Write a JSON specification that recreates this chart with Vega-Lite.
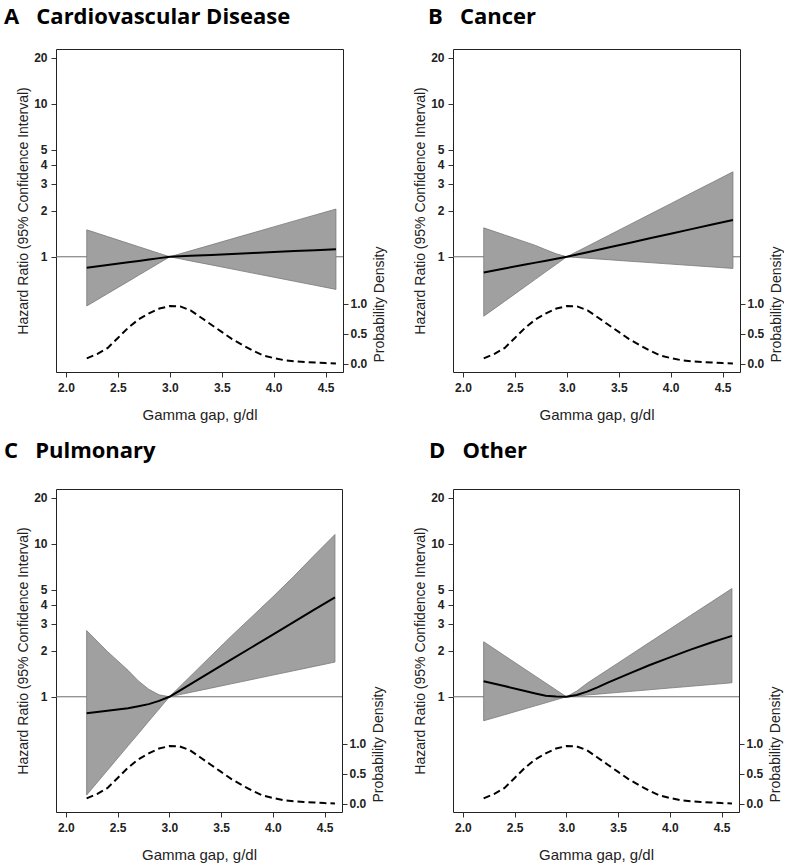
{
  "$schema": "https://vega.github.io/schema/vega-lite/v6.json",
  "padding": {"left": 3, "top": 5, "right": 0, "bottom": 0},
  "background": "white",
  "config": {
    "view": {"stroke": "#222222", "strokeWidth": 1},
    "axis": {
      "domain": false, "grid": false,
      "labelFont": "Liberation Sans, Arial, Helvetica, sans-serif", "labelFontSize": 12, "labelFontWeight": "bold", "labelColor": "#222222",
      "tickColor": "#333333", "tickSize": 5,
      "titleFont": "Liberation Sans, Arial, Helvetica, sans-serif", "titleFontSize": 14, "titleFontWeight": "normal", "titleColor": "#222222"
    },
    "title": {"font": "Open Sans", "fontSize": 22, "fontWeight": "bold", "color": "#000000", "anchor": "start", "frame": "group", "baseline": "alphabetic"}
  },
  "datasets": {
    "curves": [
      {"panel": "A", "x": 2.2, "lo": 0.477, "hr": 0.848, "hi": 1.50},
      {"panel": "A", "x": 2.4, "lo": 0.574, "hr": 0.884, "hi": 1.355},
      {"panel": "A", "x": 2.6, "lo": 0.690, "hr": 0.921, "hi": 1.224},
      {"panel": "A", "x": 2.7, "lo": 0.758, "hr": 0.940, "hi": 1.164},
      {"panel": "A", "x": 2.8, "lo": 0.831, "hr": 0.960, "hi": 1.106},
      {"panel": "A", "x": 2.9, "lo": 0.912, "hr": 0.980, "hi": 1.052},
      {"panel": "A", "x": 3.0, "lo": 1.0, "hr": 1.0, "hi": 1.0},
      {"panel": "A", "x": 3.1, "lo": 0.970, "hr": 1.007, "hi": 1.046},
      {"panel": "A", "x": 3.2, "lo": 0.940, "hr": 1.014, "hi": 1.094},
      {"panel": "A", "x": 3.4, "lo": 0.885, "hr": 1.029, "hi": 1.197},
      {"panel": "A", "x": 3.6, "lo": 0.832, "hr": 1.044, "hi": 1.31},
      {"panel": "A", "x": 3.8, "lo": 0.782, "hr": 1.059, "hi": 1.433},
      {"panel": "A", "x": 4.0, "lo": 0.736, "hr": 1.074, "hi": 1.568},
      {"panel": "A", "x": 4.2, "lo": 0.692, "hr": 1.089, "hi": 1.716},
      {"panel": "A", "x": 4.4, "lo": 0.651, "hr": 1.105, "hi": 1.876},
      {"panel": "A", "x": 4.6, "lo": 0.612, "hr": 1.12, "hi": 2.05},
      {"panel": "B", "x": 2.2, "lo": 0.409, "hr": 0.79, "hi": 1.545},
      {"panel": "B", "x": 2.4, "lo": 0.511, "hr": 0.839, "hi": 1.39},
      {"panel": "B", "x": 2.6, "lo": 0.639, "hr": 0.889, "hi": 1.25},
      {"panel": "B", "x": 2.7, "lo": 0.715, "hr": 0.916, "hi": 1.185},
      {"panel": "B", "x": 2.8, "lo": 0.80, "hr": 0.943, "hi": 1.11},
      {"panel": "B", "x": 2.9, "lo": 0.894, "hr": 0.971, "hi": 1.045},
      {"panel": "B", "x": 3.0, "lo": 1.0, "hr": 1.0, "hi": 1.0},
      {"panel": "B", "x": 3.1, "lo": 0.989, "hr": 1.035, "hi": 1.083},
      {"panel": "B", "x": 3.2, "lo": 0.978, "hr": 1.072, "hi": 1.173},
      {"panel": "B", "x": 3.4, "lo": 0.957, "hr": 1.149, "hi": 1.376},
      {"panel": "B", "x": 3.6, "lo": 0.936, "hr": 1.231, "hi": 1.615},
      {"panel": "B", "x": 3.8, "lo": 0.916, "hr": 1.32, "hi": 1.895},
      {"panel": "B", "x": 4.0, "lo": 0.896, "hr": 1.414, "hi": 2.223},
      {"panel": "B", "x": 4.2, "lo": 0.877, "hr": 1.516, "hi": 2.61},
      {"panel": "B", "x": 4.4, "lo": 0.858, "hr": 1.624, "hi": 3.06},
      {"panel": "B", "x": 4.6, "lo": 0.839, "hr": 1.74, "hi": 3.59},
      {"panel": "C", "x": 2.2, "lo": 0.228, "hr": 0.781, "hi": 2.71},
      {"panel": "C", "x": 2.4, "lo": 0.33, "hr": 0.81, "hi": 1.98},
      {"panel": "C", "x": 2.6, "lo": 0.478, "hr": 0.842, "hi": 1.49},
      {"panel": "C", "x": 2.7, "lo": 0.574, "hr": 0.866, "hi": 1.27},
      {"panel": "C", "x": 2.8, "lo": 0.691, "hr": 0.895, "hi": 1.12},
      {"panel": "C", "x": 2.9, "lo": 0.831, "hr": 0.94, "hi": 1.03},
      {"panel": "C", "x": 3.0, "lo": 1.0, "hr": 1.0, "hi": 1.0},
      {"panel": "C", "x": 3.1, "lo": 1.033, "hr": 1.098, "hi": 1.165},
      {"panel": "C", "x": 3.2, "lo": 1.067, "hr": 1.206, "hi": 1.357},
      {"panel": "C", "x": 3.4, "lo": 1.139, "hr": 1.455, "hi": 1.843},
      {"panel": "C", "x": 3.6, "lo": 1.216, "hr": 1.754, "hi": 2.5},
      {"panel": "C", "x": 3.8, "lo": 1.298, "hr": 2.115, "hi": 3.35},
      {"panel": "C", "x": 4.0, "lo": 1.386, "hr": 2.55, "hi": 4.5},
      {"panel": "C", "x": 4.2, "lo": 1.479, "hr": 3.076, "hi": 6.1},
      {"panel": "C", "x": 4.4, "lo": 1.579, "hr": 3.71, "hi": 8.4},
      {"panel": "C", "x": 4.6, "lo": 1.686, "hr": 4.47, "hi": 11.5},
      {"panel": "D", "x": 2.2, "lo": 0.697, "hr": 1.265, "hi": 2.29},
      {"panel": "D", "x": 2.4, "lo": 0.762, "hr": 1.175, "hi": 1.86},
      {"panel": "D", "x": 2.6, "lo": 0.835, "hr": 1.092, "hi": 1.512},
      {"panel": "D", "x": 2.7, "lo": 0.873, "hr": 1.052, "hi": 1.364},
      {"panel": "D", "x": 2.8, "lo": 0.913, "hr": 1.015, "hi": 1.23},
      {"panel": "D", "x": 2.9, "lo": 0.956, "hr": 1.005, "hi": 1.109},
      {"panel": "D", "x": 3.0, "lo": 1.0, "hr": 1.0, "hi": 1.0},
      {"panel": "D", "x": 3.1, "lo": 1.013, "hr": 1.028, "hi": 1.09},
      {"panel": "D", "x": 3.2, "lo": 1.027, "hr": 1.081, "hi": 1.226},
      {"panel": "D", "x": 3.3, "lo": 1.040, "hr": 1.153, "hi": 1.358},
      {"panel": "D", "x": 3.4, "lo": 1.054, "hr": 1.236, "hi": 1.503},
      {"panel": "D", "x": 3.6, "lo": 1.082, "hr": 1.413, "hi": 1.843},
      {"panel": "D", "x": 3.8, "lo": 1.111, "hr": 1.607, "hi": 2.26},
      {"panel": "D", "x": 4.0, "lo": 1.141, "hr": 1.811, "hi": 2.77},
      {"panel": "D", "x": 4.2, "lo": 1.171, "hr": 2.032, "hi": 3.4},
      {"panel": "D", "x": 4.4, "lo": 1.202, "hr": 2.265, "hi": 4.16},
      {"panel": "D", "x": 4.6, "lo": 1.235, "hr": 2.5, "hi": 5.1}
    ],
    "density": [
      {"x": 2.2, "dens": 0.09}, {"x": 2.3, "dens": 0.16}, {"x": 2.4, "dens": 0.26},
      {"x": 2.5, "dens": 0.43}, {"x": 2.6, "dens": 0.60}, {"x": 2.7, "dens": 0.74},
      {"x": 2.8, "dens": 0.84}, {"x": 2.9, "dens": 0.92}, {"x": 3.0, "dens": 0.96},
      {"x": 3.1, "dens": 0.955}, {"x": 3.2, "dens": 0.89}, {"x": 3.3, "dens": 0.77},
      {"x": 3.4, "dens": 0.65}, {"x": 3.5, "dens": 0.53}, {"x": 3.6, "dens": 0.41},
      {"x": 3.7, "dens": 0.31}, {"x": 3.8, "dens": 0.217}, {"x": 3.9, "dens": 0.138},
      {"x": 4.0, "dens": 0.095}, {"x": 4.1, "dens": 0.06}, {"x": 4.2, "dens": 0.04},
      {"x": 4.3, "dens": 0.03}, {"x": 4.4, "dens": 0.02}, {"x": 4.5, "dens": 0.01},
      {"x": 4.6, "dens": 0.005}
    ]
  },
  "columns": 2,
  "spacing": {"column": 25, "row": 16},
  "concat": [
    {
      "width": 287, "height": 323,
      "title": {"text": "A\u00a0\u00a0\u00a0Cardiovascular Disease", "dx": -52, "offset": 20.5},
      "resolve": {"scale": {"y": "independent"}},
      "layer": [
        {
          "data": {"values": [{"ref": 1}]},
          "mark": {"type": "rule", "color": "#6e6e6e", "strokeWidth": 1},
          "encoding": {
            "y": {"field": "ref", "type": "quantitative", "scale": {"type": "log", "domain": [0.1766, 22.8]},
              "axis": {"values": [1, 2, 3, 4, 5, 10, 20], "format": "d", "title": "Hazard Ratio (95% Confidence Interval)", "titleX": -33, "titleBaseline": "middle", "labelPadding": 4}}
          }
        },
        {
          "data": {"name": "curves"},
          "transform": [{"filter": "datum.panel === 'A'"}],
          "mark": {"type": "area", "fill": "#a0a0a0", "fillOpacity": 1, "stroke": "#7a7a7a", "strokeWidth": 0.8},
          "encoding": {
            "x": {"field": "x", "type": "quantitative", "scale": {"domain": [1.904, 4.668], "nice": false, "zero": false},
              "axis": {"values": [2, 2.5, 3, 3.5, 4, 4.5], "format": ".1f", "title": "Gamma gap, g/dl", "titleY": 42, "titleBaseline": "middle", "titleFontSize": 15, "labelPadding": 5}},
            "y": {"field": "lo", "type": "quantitative", "scale": {"type": "log", "domain": [0.1766, 22.8]}, "axis": null},
            "y2": {"field": "hi"}
          }
        },
        {
          "data": {"name": "curves"},
          "transform": [{"filter": "datum.panel === 'A'"}],
          "mark": {"type": "line", "color": "#000000", "strokeWidth": 2},
          "encoding": {
            "x": {"field": "x", "type": "quantitative", "scale": {"domain": [1.904, 4.668], "nice": false, "zero": false},
              "axis": {"values": [2, 2.5, 3, 3.5, 4, 4.5], "format": ".1f", "title": "Gamma gap, g/dl", "titleY": 42, "titleBaseline": "middle", "titleFontSize": 15, "labelPadding": 5}},
            "y": {"field": "hr", "type": "quantitative", "scale": {"type": "log", "domain": [0.1766, 22.8]}, "axis": null}
          }
        },
        {
          "data": {"name": "density"},
          "mark": {"type": "line", "color": "#000000", "strokeWidth": 2, "strokeDash": [7, 4]},
          "encoding": {
            "x": {"field": "x", "type": "quantitative", "scale": {"domain": [1.904, 4.668], "nice": false, "zero": false},
              "axis": {"values": [2, 2.5, 3, 3.5, 4, 4.5], "format": ".1f", "title": "Gamma gap, g/dl", "titleY": 42, "titleBaseline": "middle", "titleFontSize": 15, "labelPadding": 5}},
            "y": {"field": "dens", "type": "quantitative", "scale": {"domain": [-0.138, 5.245], "nice": false, "zero": false},
              "axis": {"orient": "right", "values": [0, 0.5, 1], "format": ".1f", "title": "Probability Density", "titleAngle": 270, "titleX": 36, "titleY": 255, "titleBaseline": "middle", "titleAlign": "center", "labelPadding": 2}}
          }
        }
      ]
    },
    {
      "width": 287, "height": 323,
      "title": {"text": "B\u00a0\u00a0\u00a0Cancer", "dx": -25, "offset": 20.5},
      "resolve": {"scale": {"y": "independent"}},
      "layer": [
        {
          "data": {"values": [{"ref": 1}]},
          "mark": {"type": "rule", "color": "#6e6e6e", "strokeWidth": 1},
          "encoding": {
            "y": {"field": "ref", "type": "quantitative", "scale": {"type": "log", "domain": [0.1766, 22.8]},
              "axis": {"values": [1, 2, 3, 4, 5, 10, 20], "format": "d", "title": "Hazard Ratio (95% Confidence Interval)", "titleX": -33, "titleBaseline": "middle", "labelPadding": 4}}
          }
        },
        {
          "data": {"name": "curves"},
          "transform": [{"filter": "datum.panel === 'B'"}],
          "mark": {"type": "area", "fill": "#a0a0a0", "fillOpacity": 1, "stroke": "#7a7a7a", "strokeWidth": 0.8},
          "encoding": {
            "x": {"field": "x", "type": "quantitative", "scale": {"domain": [1.904, 4.668], "nice": false, "zero": false},
              "axis": {"values": [2, 2.5, 3, 3.5, 4, 4.5], "format": ".1f", "title": "Gamma gap, g/dl", "titleY": 42, "titleBaseline": "middle", "titleFontSize": 15, "labelPadding": 5}},
            "y": {"field": "lo", "type": "quantitative", "scale": {"type": "log", "domain": [0.1766, 22.8]}, "axis": null},
            "y2": {"field": "hi"}
          }
        },
        {
          "data": {"name": "curves"},
          "transform": [{"filter": "datum.panel === 'B'"}],
          "mark": {"type": "line", "color": "#000000", "strokeWidth": 2},
          "encoding": {
            "x": {"field": "x", "type": "quantitative", "scale": {"domain": [1.904, 4.668], "nice": false, "zero": false},
              "axis": {"values": [2, 2.5, 3, 3.5, 4, 4.5], "format": ".1f", "title": "Gamma gap, g/dl", "titleY": 42, "titleBaseline": "middle", "titleFontSize": 15, "labelPadding": 5}},
            "y": {"field": "hr", "type": "quantitative", "scale": {"type": "log", "domain": [0.1766, 22.8]}, "axis": null}
          }
        },
        {
          "data": {"name": "density"},
          "mark": {"type": "line", "color": "#000000", "strokeWidth": 2, "strokeDash": [7, 4]},
          "encoding": {
            "x": {"field": "x", "type": "quantitative", "scale": {"domain": [1.904, 4.668], "nice": false, "zero": false},
              "axis": {"values": [2, 2.5, 3, 3.5, 4, 4.5], "format": ".1f", "title": "Gamma gap, g/dl", "titleY": 42, "titleBaseline": "middle", "titleFontSize": 15, "labelPadding": 5}},
            "y": {"field": "dens", "type": "quantitative", "scale": {"domain": [-0.138, 5.245], "nice": false, "zero": false},
              "axis": {"orient": "right", "values": [0, 0.5, 1], "format": ".1f", "title": "Probability Density", "titleAngle": 270, "titleX": 36, "titleY": 255, "titleBaseline": "middle", "titleAlign": "center", "labelPadding": 2}}
          }
        }
      ]
    },
    {
      "width": 286, "height": 323,
      "title": {"text": "C\u00a0\u00a0\u00a0Pulmonary", "dx": -52, "offset": 26.5},
      "resolve": {"scale": {"y": "independent"}},
      "layer": [
        {
          "data": {"values": [{"ref": 1}]},
          "mark": {"type": "rule", "color": "#6e6e6e", "strokeWidth": 1},
          "encoding": {
            "y": {"field": "ref", "type": "quantitative", "scale": {"type": "log", "domain": [0.1766, 22.8]},
              "axis": {"values": [1, 2, 3, 4, 5, 10, 20], "format": "d", "title": "Hazard Ratio (95% Confidence Interval)", "titleX": -33, "titleBaseline": "middle", "labelPadding": 4}}
          }
        },
        {
          "data": {"name": "curves"},
          "transform": [{"filter": "datum.panel === 'C'"}],
          "mark": {"type": "area", "fill": "#a0a0a0", "fillOpacity": 1, "stroke": "#7a7a7a", "strokeWidth": 0.8},
          "encoding": {
            "x": {"field": "x", "type": "quantitative", "scale": {"domain": [1.904, 4.668], "nice": false, "zero": false},
              "axis": {"values": [2, 2.5, 3, 3.5, 4, 4.5], "format": ".1f", "title": "Gamma gap, g/dl", "titleY": 42, "titleBaseline": "middle", "titleFontSize": 15, "labelPadding": 5}},
            "y": {"field": "lo", "type": "quantitative", "scale": {"type": "log", "domain": [0.1766, 22.8]}, "axis": null},
            "y2": {"field": "hi"}
          }
        },
        {
          "data": {"name": "curves"},
          "transform": [{"filter": "datum.panel === 'C'"}],
          "mark": {"type": "line", "color": "#000000", "strokeWidth": 2},
          "encoding": {
            "x": {"field": "x", "type": "quantitative", "scale": {"domain": [1.904, 4.668], "nice": false, "zero": false},
              "axis": {"values": [2, 2.5, 3, 3.5, 4, 4.5], "format": ".1f", "title": "Gamma gap, g/dl", "titleY": 42, "titleBaseline": "middle", "titleFontSize": 15, "labelPadding": 5}},
            "y": {"field": "hr", "type": "quantitative", "scale": {"type": "log", "domain": [0.1766, 22.8]}, "axis": null}
          }
        },
        {
          "data": {"name": "density"},
          "mark": {"type": "line", "color": "#000000", "strokeWidth": 2, "strokeDash": [7, 4]},
          "encoding": {
            "x": {"field": "x", "type": "quantitative", "scale": {"domain": [1.904, 4.668], "nice": false, "zero": false},
              "axis": {"values": [2, 2.5, 3, 3.5, 4, 4.5], "format": ".1f", "title": "Gamma gap, g/dl", "titleY": 42, "titleBaseline": "middle", "titleFontSize": 15, "labelPadding": 5}},
            "y": {"field": "dens", "type": "quantitative", "scale": {"domain": [-0.138, 5.245], "nice": false, "zero": false},
              "axis": {"orient": "right", "values": [0, 0.5, 1], "format": ".1f", "title": "Probability Density", "titleAngle": 270, "titleX": 36, "titleY": 255, "titleBaseline": "middle", "titleAlign": "center", "labelPadding": 2}}
          }
        }
      ]
    },
    {
      "width": 286, "height": 323,
      "title": {"text": "D\u00a0\u00a0\u00a0Other", "dx": -24, "offset": 26.5},
      "resolve": {"scale": {"y": "independent"}},
      "layer": [
        {
          "data": {"values": [{"ref": 1}]},
          "mark": {"type": "rule", "color": "#6e6e6e", "strokeWidth": 1},
          "encoding": {
            "y": {"field": "ref", "type": "quantitative", "scale": {"type": "log", "domain": [0.1766, 22.8]},
              "axis": {"values": [1, 2, 3, 4, 5, 10, 20], "format": "d", "title": "Hazard Ratio (95% Confidence Interval)", "titleX": -33, "titleBaseline": "middle", "labelPadding": 4}}
          }
        },
        {
          "data": {"name": "curves"},
          "transform": [{"filter": "datum.panel === 'D'"}],
          "mark": {"type": "area", "fill": "#a0a0a0", "fillOpacity": 1, "stroke": "#7a7a7a", "strokeWidth": 0.8},
          "encoding": {
            "x": {"field": "x", "type": "quantitative", "scale": {"domain": [1.904, 4.668], "nice": false, "zero": false},
              "axis": {"values": [2, 2.5, 3, 3.5, 4, 4.5], "format": ".1f", "title": "Gamma gap, g/dl", "titleY": 42, "titleBaseline": "middle", "titleFontSize": 15, "labelPadding": 5}},
            "y": {"field": "lo", "type": "quantitative", "scale": {"type": "log", "domain": [0.1766, 22.8]}, "axis": null},
            "y2": {"field": "hi"}
          }
        },
        {
          "data": {"name": "curves"},
          "transform": [{"filter": "datum.panel === 'D'"}],
          "mark": {"type": "line", "color": "#000000", "strokeWidth": 2},
          "encoding": {
            "x": {"field": "x", "type": "quantitative", "scale": {"domain": [1.904, 4.668], "nice": false, "zero": false},
              "axis": {"values": [2, 2.5, 3, 3.5, 4, 4.5], "format": ".1f", "title": "Gamma gap, g/dl", "titleY": 42, "titleBaseline": "middle", "titleFontSize": 15, "labelPadding": 5}},
            "y": {"field": "hr", "type": "quantitative", "scale": {"type": "log", "domain": [0.1766, 22.8]}, "axis": null}
          }
        },
        {
          "data": {"name": "density"},
          "mark": {"type": "line", "color": "#000000", "strokeWidth": 2, "strokeDash": [7, 4]},
          "encoding": {
            "x": {"field": "x", "type": "quantitative", "scale": {"domain": [1.904, 4.668], "nice": false, "zero": false},
              "axis": {"values": [2, 2.5, 3, 3.5, 4, 4.5], "format": ".1f", "title": "Gamma gap, g/dl", "titleY": 42, "titleBaseline": "middle", "titleFontSize": 15, "labelPadding": 5}},
            "y": {"field": "dens", "type": "quantitative", "scale": {"domain": [-0.138, 5.245], "nice": false, "zero": false},
              "axis": {"orient": "right", "values": [0, 0.5, 1], "format": ".1f", "title": "Probability Density", "titleAngle": 270, "titleX": 36, "titleY": 255, "titleBaseline": "middle", "titleAlign": "center", "labelPadding": 2}}
          }
        }
      ]
    }
  ]
}
